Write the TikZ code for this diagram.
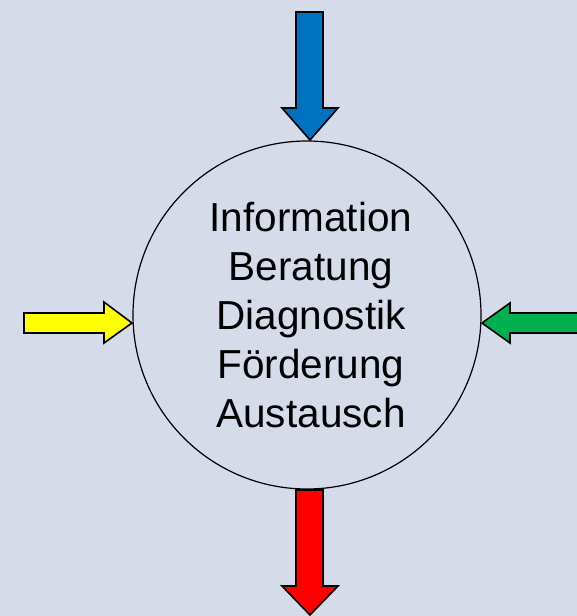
\documentclass[tikz,border=0pt]{standalone}
\usepackage{fontspec}
\setmainfont{Liberation Sans}
\definecolor{bg}{RGB}{213,219,232}
\definecolor{ablue}{RGB}{0,112,192}
\definecolor{ayellow}{RGB}{255,255,0}
\definecolor{agreen}{RGB}{0,176,80}
\definecolor{ared}{RGB}{255,0,0}
\begin{document}
\begin{tikzpicture}[x=1pt,y=-1pt,
  blockarrow/.style={draw=black,line width=1.6pt,line join=miter}]
\useasboundingbox (0,0) rectangle (577,616);
\clip (0,0) rectangle (577,616);
\fill[bg] (0,0) rectangle (577,616);
% circle
\node[circle,draw=black,line width=1.2pt,minimum size=348pt,inner sep=0pt] (hub) at (307,315) {};
% text
\node[anchor=base,align=center,inner sep=0pt,font=\fontsize{40.5}{48.8}\selectfont] (txt) at (311,427)
  {Information\\Beratung\\Diagnostik\\Förderung\\Austausch};
% blue arrow (top)
\draw[blockarrow,fill=ablue] (296,12) -- (323,12) -- (323,108) -- (338,108) -- (310,140) -- (282,108) -- (296,108) -- cycle;
% red arrow (bottom)
\draw[blockarrow,fill=ared] (296,490) -- (323,490) -- (323,586) -- (338,586) -- (310,615) -- (282,586) -- (296,586) -- cycle;
% yellow arrow (left)
\draw[blockarrow,fill=ayellow] (24,313) -- (104,313) -- (104,302) -- (132,323) -- (104,343) -- (104,333) -- (24,333) -- cycle;
% green arrow (right)
\draw[blockarrow,fill=agreen] (590,313) -- (510,313) -- (510,303) -- (482,323) -- (510,343) -- (510,333) -- (590,333) -- cycle;
\end{tikzpicture}
\end{document}
